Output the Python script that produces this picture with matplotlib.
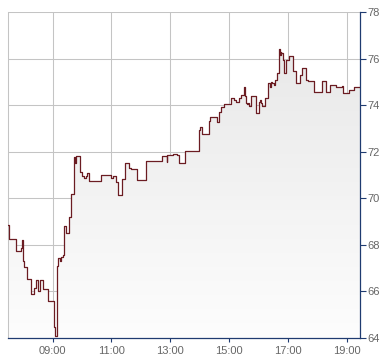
"""
Intraday step chart: price line with shaded area, right-hand axis.
"""

import numpy as np
import matplotlib
matplotlib.use("Agg")
import matplotlib.pyplot as plt
from matplotlib.colors import LinearSegmentedColormap

# change points of the price (steps-post), "HH:MM" -> value
times = [
    "07:29", "07:31", "07:46", "07:55", "07:57", "07:59", "08:01", "08:07",
    "08:16", "08:22", "08:27", "08:31", "08:35", "08:40", "08:51", "09:03",
    "09:05", "09:08", "09:10", "09:15", "09:17", "09:22", "09:23", "09:27",
    "09:34", "09:37", "09:44", "09:46", "09:47", "09:56", "09:59", "10:04",
    "10:08", "10:11", "10:15", "10:39", "11:00", "11:04", "11:09", "11:14",
    "11:21", "11:28", "11:36", "11:40", "11:53", "12:11", "12:21", "12:43",
    "12:53", "12:54", "13:06", "13:14", "13:18", "13:31", "13:59", "14:00",
    "14:05", "14:19", "14:21", "14:35", "14:39", "14:44", "14:50", "15:04",
    "15:10", "15:14", "15:20", "15:24", "15:30", "15:32", "15:35", "15:37",
    "15:39", "15:41", "15:44", "15:54", "16:02", "16:04", "16:05", "16:07",
    "16:14", "16:20", "16:23", "16:25", "16:27", "16:32", "16:34", "16:37",
    "16:42", "16:44", "16:45", "16:46", "16:49", "16:52", "16:56", "17:03",
    "17:11", "17:16", "17:25", "17:28", "17:36", "17:40", "17:54", "18:10",
    "18:18", "18:26", "18:38", "18:46", "18:51", "18:52", "19:05", "19:14",
    "19:27",
]
prices = [
    68.85, 68.24, 67.73, 67.85, 68.20, 67.30, 67.06, 66.53,
    65.87, 66.13, 66.48, 66.00, 66.48, 66.09, 65.60, 64.49,
    64.09, 67.10, 67.42, 67.30, 67.46, 67.56, 68.80, 68.50,
    69.18, 70.18, 71.79, 71.50, 71.82, 71.15, 70.95, 70.89,
    70.95, 71.10, 70.74, 70.98, 70.89, 70.95, 70.70, 70.16,
    70.84, 71.51, 71.31, 71.24, 70.78, 71.62, 71.58, 71.81,
    71.55, 71.85, 71.92, 71.85, 71.51, 72.02, 72.95, 73.05,
    72.78, 73.33, 73.50, 73.26, 73.69, 73.90, 74.04, 74.31,
    74.24, 74.15, 74.30, 74.45, 74.80, 74.40, 74.10, 74.04,
    74.10, 73.98, 74.39, 73.68, 74.15, 74.20, 74.08, 73.96,
    74.30, 74.97, 74.80, 75.00, 74.95, 74.85, 75.07, 75.39,
    76.39, 76.15, 76.30, 76.25, 75.93, 75.39, 75.93, 76.10,
    75.47, 74.96, 75.30, 75.60, 75.10, 75.05, 74.58, 75.03,
    74.58, 74.86, 74.80, 74.78, 74.83, 74.52, 74.64, 74.80,
    74.80,
]

x_ticks = ["09:00", "11:00", "13:00", "15:00", "17:00", "19:00"]
y_ticks = [64, 66, 68, 70, 72, 74, 76, 78]


def minutes(s):
    h, m = s.split(":")
    return int(h) * 60 + int(m)


t = np.array([minutes(s) for s in times], dtype=float)
p = np.array(prices)

plt.rcParams["font.family"] = ["Liberation Sans", "DejaVu Sans"]

fig = plt.figure(figsize=(3.9, 3.64), dpi=100)
ax = fig.add_axes([8 / 390, 1 - 338 / 364, 352 / 390, 326 / 364])

ax.set_xlim(t[0], t[-1])
ax.set_ylim(64, 78)

# gradient fill under the step line
poly = ax.fill_between(t, p, 64, step="post", color="none", lw=0)
cmap = LinearSegmentedColormap.from_list("g", ["#fdfdfd", "#e6e6e6"])
grad = np.linspace(0, 1, 256).reshape(-1, 1)
img = ax.imshow(grad, cmap=cmap, origin="lower", aspect="auto",
                extent=[t[0], t[-1], 64, 78], zorder=1)
img.set_clip_path(poly.get_paths()[0], transform=ax.transData)

ax.step(t, p, where="post", color="#6b1c22", lw=0.9, zorder=3)

ax.set_xticks([minutes(s) for s in x_ticks])
ax.set_xticklabels(x_ticks)
ax.set_yticks(y_ticks)
ax.yaxis.tick_right()
ax.grid(True, color="#c4c4c4", lw=0.75, zorder=0)
ax.set_axisbelow(True)

ax.spines["top"].set_visible(False)
ax.spines["left"].set_color("#c4c4c4")
ax.spines["left"].set_linewidth(0.75)
ax.spines["right"].set_color("#1f3b70")
ax.spines["bottom"].set_color("#1f3b70")
ax.spines["right"].set_linewidth(0.9)
ax.spines["bottom"].set_linewidth(0.9)

ax.tick_params(axis="y", right=True, left=False, length=4, width=0.8,
               color="#1f3b70", labelcolor="#666666", labelsize=8, pad=1)
ax.tick_params(axis="x", length=3, width=0.8, color="#1f3b70",
               labelcolor="#666666", labelsize=8, pad=3)

fig.savefig("out.png", dpi=100)
